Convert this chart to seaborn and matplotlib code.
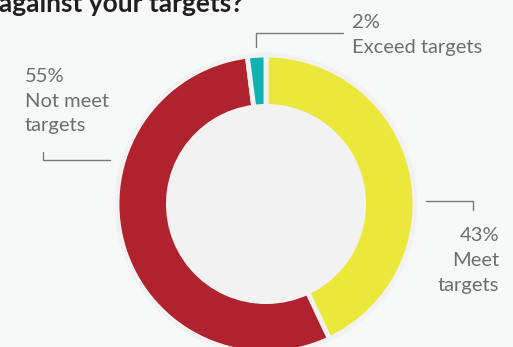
import matplotlib
matplotlib.use("Agg")
import matplotlib.pyplot as plt
import seaborn as sns

categories = ["Meet targets", "Not meet targets", "Exceed targets"]
values = [43, 55, 2]
pct_labels = ["43%", "55%", "2%"]
title = "How are you performing against your targets?"

sns.set_theme(style="white")
plt.rcParams["font.family"] = ["Lato", "DejaVu Sans"]
colors = sns.color_palette(["#ebe83b", "#b0222e", "#12b2b3"])

W, H = 513, 347
BG = "#f7f9f9"
fig = plt.figure(figsize=(W / 100, H / 100), dpi=100, facecolor=BG)
ax = fig.add_axes([0, 0, 1, 1])
ax.set_facecolor(BG)

cx, cy, R = 266, H - 204, 149
ax.pie(values, colors=colors, startangle=90, counterclock=False,
       center=(cx, cy), radius=R, frame=True,
       wedgeprops=dict(width=R * 0.345, edgecolor="#f2f2f2", linewidth=3.5))
ax.add_patch(plt.Circle((cx, cy), R * 0.655 - 1, color="#f2f2f2", zorder=5))
ax.set_xlim(0, W)
ax.set_ylim(0, H)
ax.set_aspect("equal")
ax.axis("off")

def Y(y):
    return H - y

tc = "#6d6e70"
fs = 14.5
lc = "#7a7a7a"
# top label (Exceed)
ax.plot([256, 256, 343], [Y(47), Y(33), Y(33)], color=lc, lw=1.0)
ax.text(352, Y(28), pct_labels[2], ha="left", va="baseline", fontsize=fs, color=tc)
ax.text(352, Y(53), "Exceed targets", ha="left", va="baseline", fontsize=fs, color=tc)
# left label (Not meet)
ax.plot([43, 43, 110], [Y(152), Y(160), Y(160)], color=lc, lw=1.0)
for i, s in enumerate([pct_labels[1], "Not meet", "targets"]):
    ax.text(25, Y(82 + 24.5 * i), s, ha="left", va="baseline", fontsize=fs, color=tc)
# right label (Meet)
ax.plot([426, 473, 473], [Y(201), Y(201), Y(210)], color=lc, lw=1.0)
for i, s in enumerate([pct_labels[0], "Meet", "targets"]):
    ax.text(499, Y(241 + 25 * i), s, ha="right", va="baseline", fontsize=fs, color=tc)

ax.text(243, Y(12), title, ha="right", va="baseline", fontsize=19,
        fontweight="bold", color="#231f20")

fig.savefig("out.png", dpi=100, facecolor=BG)
